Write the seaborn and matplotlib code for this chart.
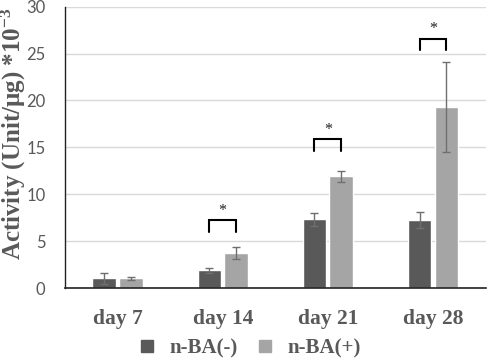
import matplotlib
matplotlib.use("Agg")
import matplotlib.pyplot as plt
import seaborn as sns
import pandas as pd
import numpy as np
from matplotlib.lines import Line2D

days = ["day 7", "day 14", "day 21", "day 28"]
groups = ["n-BA(-)", "n-BA(+)"]
neg_vals = [1.05, 1.9, 7.35, 7.25]
neg_err = [0.6, 0.25, 0.7, 0.9]
pos_vals = [1.05, 3.7, 11.9, 19.3]
pos_err = [0.15, 0.65, 0.6, 4.8]
sig_days = ["day 14", "day 21", "day 28"]
sig_heights = [7.2, 15.85, 26.6]

sns.set_theme(style="white")
plt.rcParams['font.family'] = ['Lato', 'DejaVu Sans']
plt.rcParams['mathtext.fontset'] = 'custom'
plt.rcParams['mathtext.rm'] = 'Liberation Serif:bold'
plt.rcParams['mathtext.bf'] = 'Liberation Serif:bold'
plt.rcParams['mathtext.it'] = 'Liberation Serif:bold'

df = pd.DataFrame({
    "day": days * 2,
    "group": [groups[0]] * 4 + [groups[1]] * 4,
    "value": neg_vals + pos_vals,
})

colors = {"n-BA(-)": "#595959", "n-BA(+)": "#a5a5a5"}

fig = plt.figure(figsize=(4.87, 3.63), dpi=100)
ax = fig.add_axes([0.1335, 0.2066, 0.8635, 0.775])

sns.barplot(data=df, x="day", y="value", hue="group", order=days,
            hue_order=groups, palette=colors, width=0.51, gap=0.12,
            errorbar=None, legend=False, ax=ax, saturation=1, zorder=2)

patches = ax.patches
neg_patches = patches[:4]
pos_patches = patches[4:8]
for ps, vals, errs in [(neg_patches, neg_vals, neg_err), (pos_patches, pos_vals, pos_err)]:
    xs = [p.get_x() + p.get_width() / 2 for p in ps]
    ax.errorbar(xs, vals, yerr=errs, fmt="none", ecolor="#6f6f6f",
                elinewidth=1.0, capsize=3, capthick=1.0, zorder=3)

for d, h in zip(sig_days, sig_heights):
    i = days.index(d)
    x1 = neg_patches[i].get_x() + neg_patches[i].get_width() / 2
    x2 = pos_patches[i].get_x() + pos_patches[i].get_width() / 2
    ax.plot([x1, x1, x2, x2], [h - 1.2, h, h, h - 1.2], color="black", lw=1.5,
            solid_joinstyle="miter", zorder=4)
    ax.text((x1 + x2) / 2, h + 0.15, "*", ha="center", va="bottom",
            fontsize=11.5, family="Liberation Serif", color="#222222")

ax.set_ylim(0, 30)
ax.set_yticks(range(0, 31, 5))
ax.set_xlim(-0.5, 3.5)
ax.yaxis.grid(True, color="#d9d9d9", lw=1.0, zorder=0)
ax.set_axisbelow(True)
for s in ["top", "right"]:
    ax.spines[s].set_visible(False)
ax.spines["left"].set_color("#222222")
ax.spines["left"].set_linewidth(1.0)
ax.spines["bottom"].set_color("#222222")
ax.spines["bottom"].set_linewidth(1.2)
ax.tick_params(axis="y", length=0, labelsize=12, labelcolor="#595959", pad=14)
ax.tick_params(axis="x", length=0, pad=15)
for lab in ax.get_xticklabels():
    lab.set_fontfamily("Liberation Serif")
    lab.set_fontweight("bold")
    lab.set_fontsize(15.5)
    lab.set_color("#595959")
ax.set_xlabel("")
ax.set_ylabel(r"Activity (Unit/μg) *10$^{-3}$", family="Liberation Serif",
              fontweight="bold", fontsize=18, color="#595959")
ax.yaxis.set_label_coords(-0.088, 0.55)

handles = [Line2D([0], [0], marker="s", linestyle="none", markersize=8.5,
                  markerfacecolor=colors[g], markeredgecolor=colors[g]) for g in groups]
leg = fig.legend(handles, groups, loc="center", bbox_to_anchor=(0.5, 0.04),
                 ncol=2, frameon=False, handletextpad=0.1, columnspacing=0.3,
                 prop={"family": "Liberation Serif", "weight": "bold", "size": 15})
for t in leg.get_texts():
    t.set_color("#595959")

fig.savefig("out.png", dpi=100)
